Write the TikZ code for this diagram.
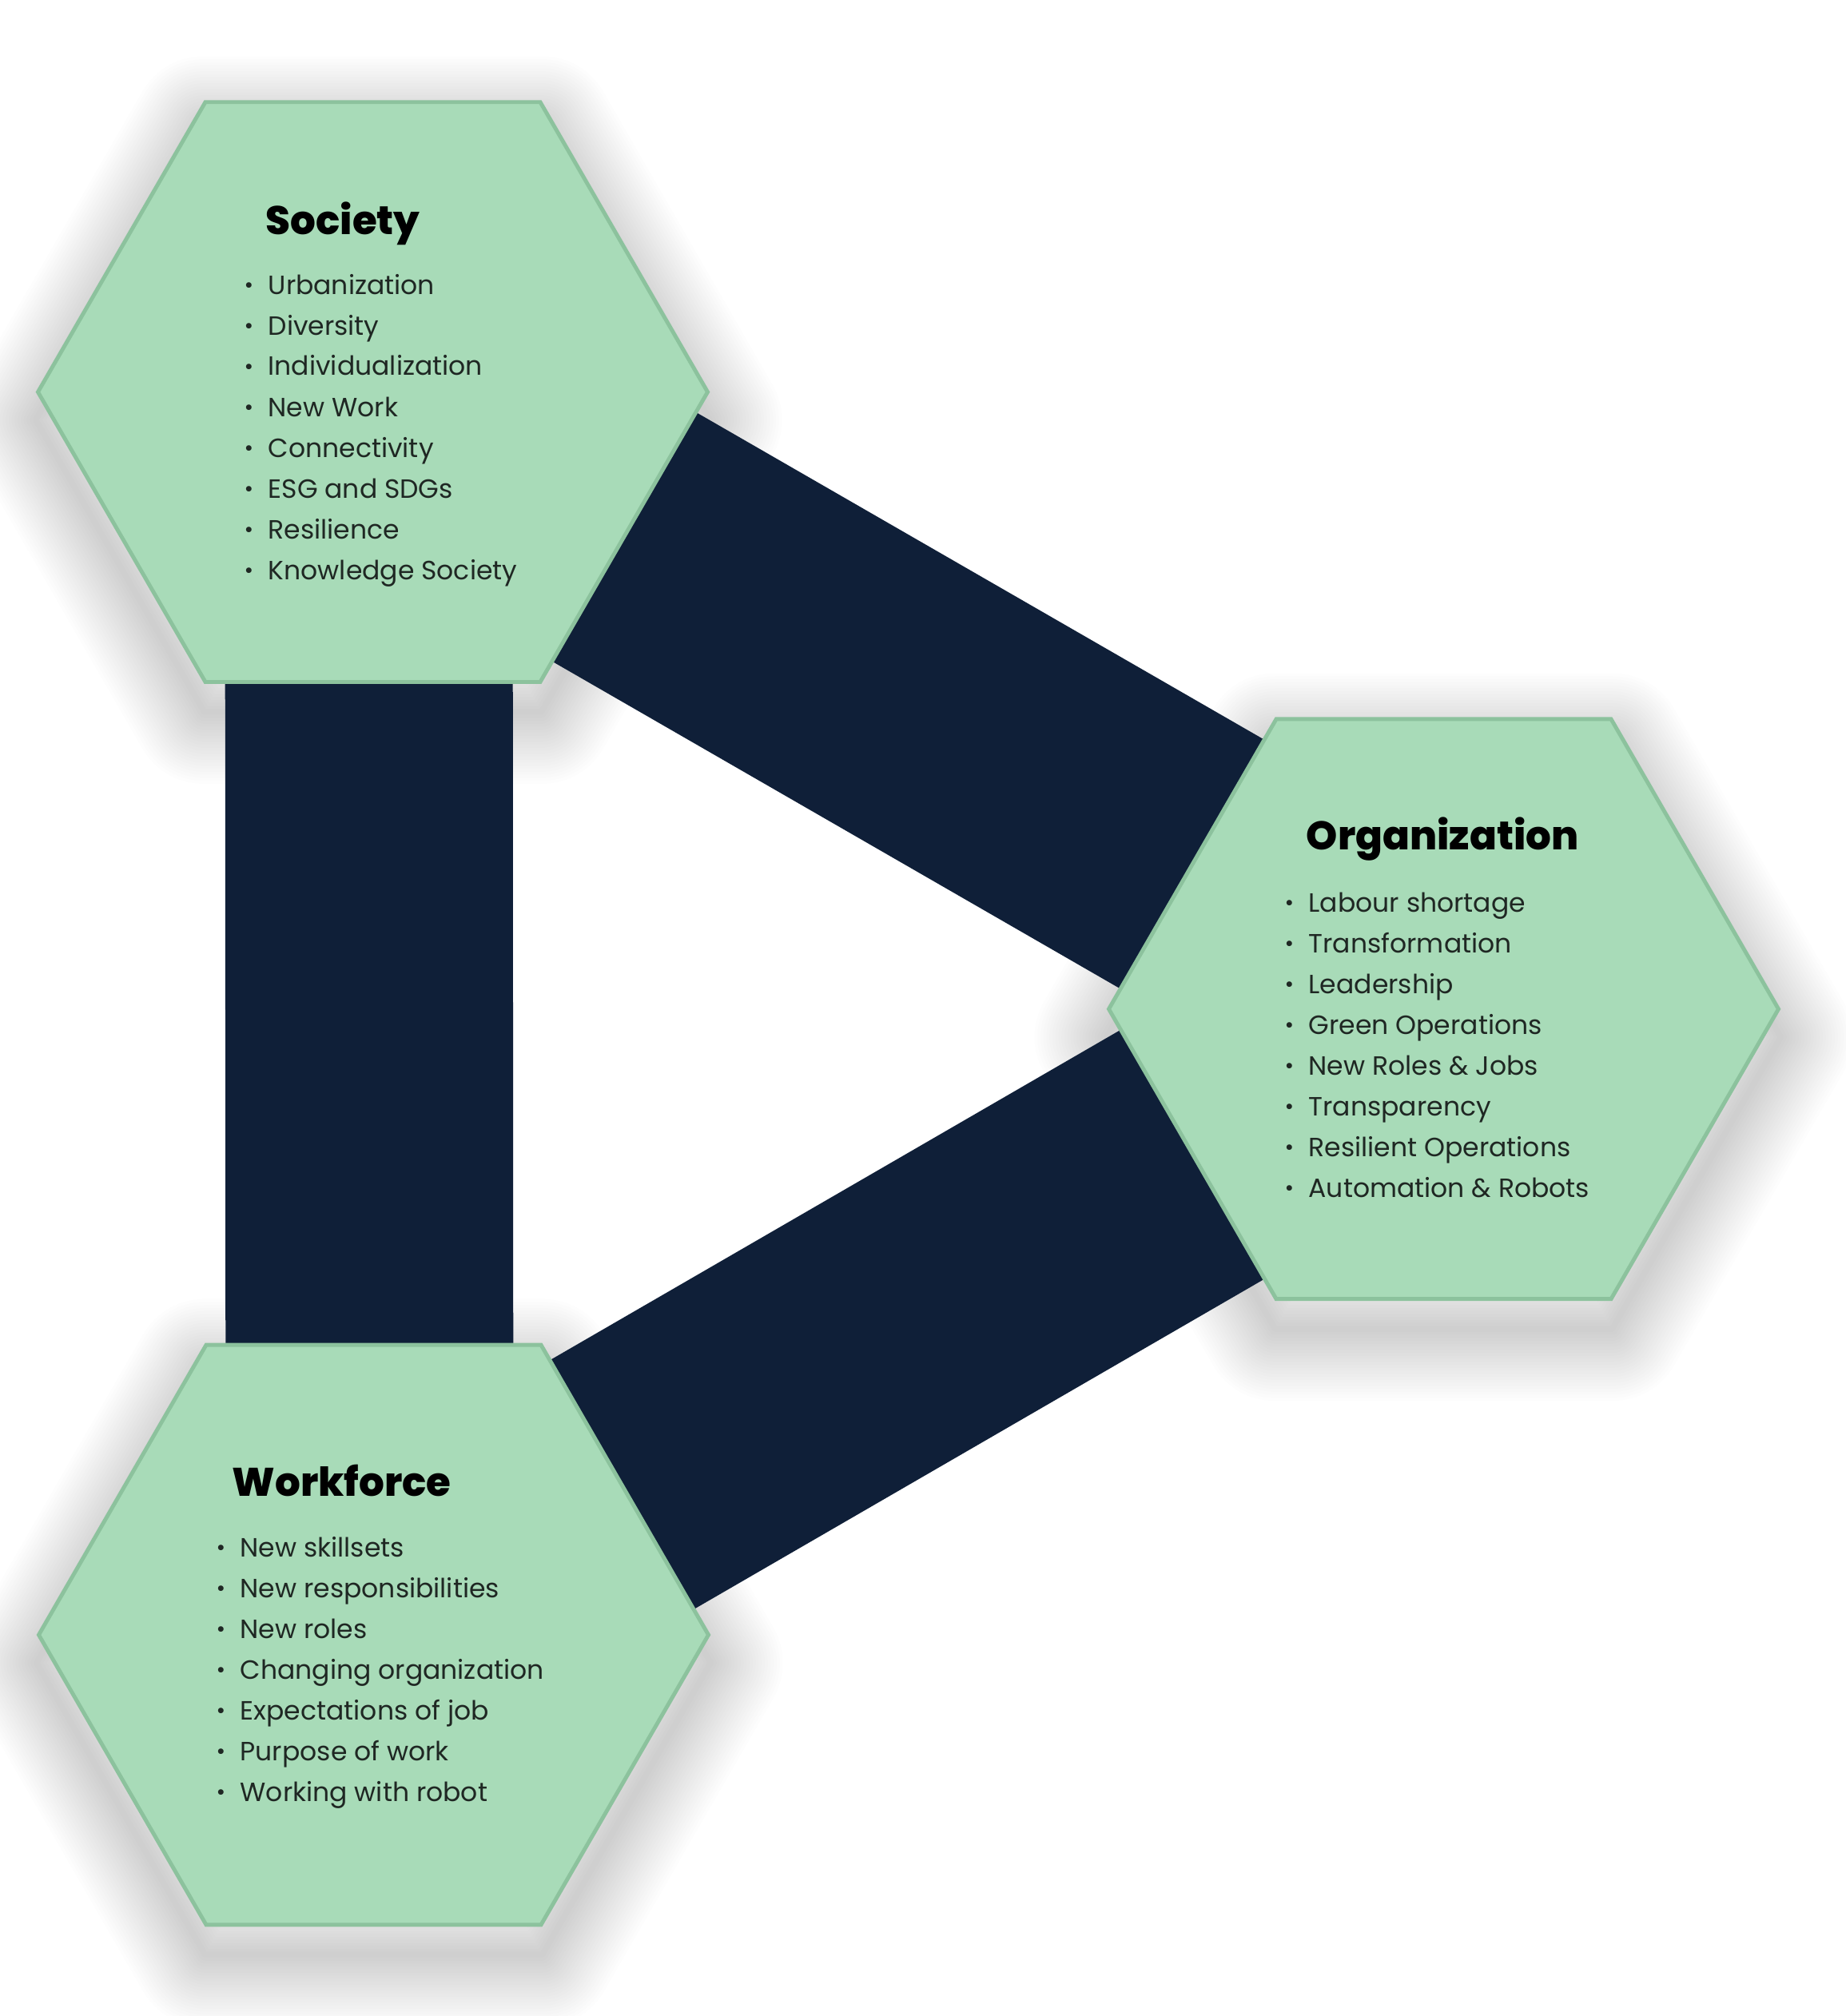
\documentclass[tikz,border=0pt]{standalone}
\usepackage{fontspec}
\setmainfont{Poppins}
\newfontfamily\headfont{Poppins ExtraBold}
\usepackage{graphicx}
\usetikzlibrary{shapes.geometric,backgrounds}
\definecolor{hexgreen}{HTML}{A8DBB8}
\definecolor{hexedge}{HTML}{8CC29D}
\definecolor{bandnavy}{HTML}{0F1F38}
\definecolor{itemtxt}{HTML}{1F2723}
\newcommand{\bul}[1]{\makebox[0.30cm][l]{\raisebox{0.06em}{\scalebox{0.85}{\textbullet}}}#1}
\tikzset{
  hexa/.style={regular polygon, regular polygon sides=6, minimum size=8.38cm, inner sep=0pt,
    fill=hexgreen, draw=hexedge, line width=1.4pt},
  softshade/.style={black, opacity=0.007, line join=round},
  band/.style={draw=bandnavy, line width=3.6cm},
  ttl/.style={anchor=base west, inner sep=0pt, font=\fontsize{14.2pt}{17pt}\headfont},
  itm/.style={anchor=base west, inner sep=0pt, text=itemtxt, font=\fontsize{9.4pt}{12pt}\selectfont},
}

\begin{document}
\begin{tikzpicture}
  \useasboundingbox (0,0) rectangle (23.10,-25.23);
  % the three hexagons
  \node[hexa] (soc) at (4.665,-4.906) {};
  \node[hexa] (org) at (18.065,-12.628) {};
  \node[hexa] (wrk) at (4.675,-20.46) {};
  % soft shadows and bands behind them
  \begin{scope}[on background layer]
    \fill[white] (0,0) rectangle (23.10,-25.23);
    \foreach \h in {soc,org,wrk}
      \foreach \k in {1,...,24}
        \draw[softshade, line width=\k*0.075cm]
          ([yshift=-0.35cm]\h.corner 1) -- ([yshift=-0.35cm]\h.corner 2) -- ([yshift=-0.35cm]\h.corner 3)
          -- ([yshift=-0.35cm]\h.corner 4) -- ([yshift=-0.35cm]\h.corner 5) -- ([yshift=-0.35cm]\h.corner 6) -- cycle;
    \draw[band] ([xshift=-0.05cm]soc.center) -- ([xshift=-0.05cm]wrk.center);
    \draw[band] (soc.center) -- (org.center);
    \draw[band] (org.center) -- ([yshift=0.08cm]wrk.center);
  \end{scope}
  % Society
  \node[ttl] (soc-ttl) at (3.32,-2.93) {Society};
  \foreach \t [count=\i] in {Urbanization,Diversity,Individualization,New Work,Connectivity,ESG and SDGs,Resilience,Knowledge Society}
    \node[itm] (soc-\i) at (3.05,-3.17-0.51*\i) {\bul{\t}};
  % Organization
  \node[ttl] (org-ttl) at (16.34,-10.63) {Organization};
  \foreach \t [count=\i] in {Labour shortage,Transformation,Leadership,Green Operations,New Roles \& Jobs,Transparency,Resilient Operations,Automation \& Robots}
    \node[itm] (org-\i) at (16.07,-10.90-0.51*\i) {\bul{\t}};
  % Workforce
  \node[ttl] (wrk-ttl) at (2.90,-18.72) {Workforce};
  \foreach \t [count=\i] in {New skillsets,New responsibilities,New roles,Changing organization,Expectations of job,Purpose of work,Working with robot}
    \node[itm] (wrk-\i) at (2.70,-18.97-0.51*\i) {\bul{\t}};
\end{tikzpicture}
\end{document}
